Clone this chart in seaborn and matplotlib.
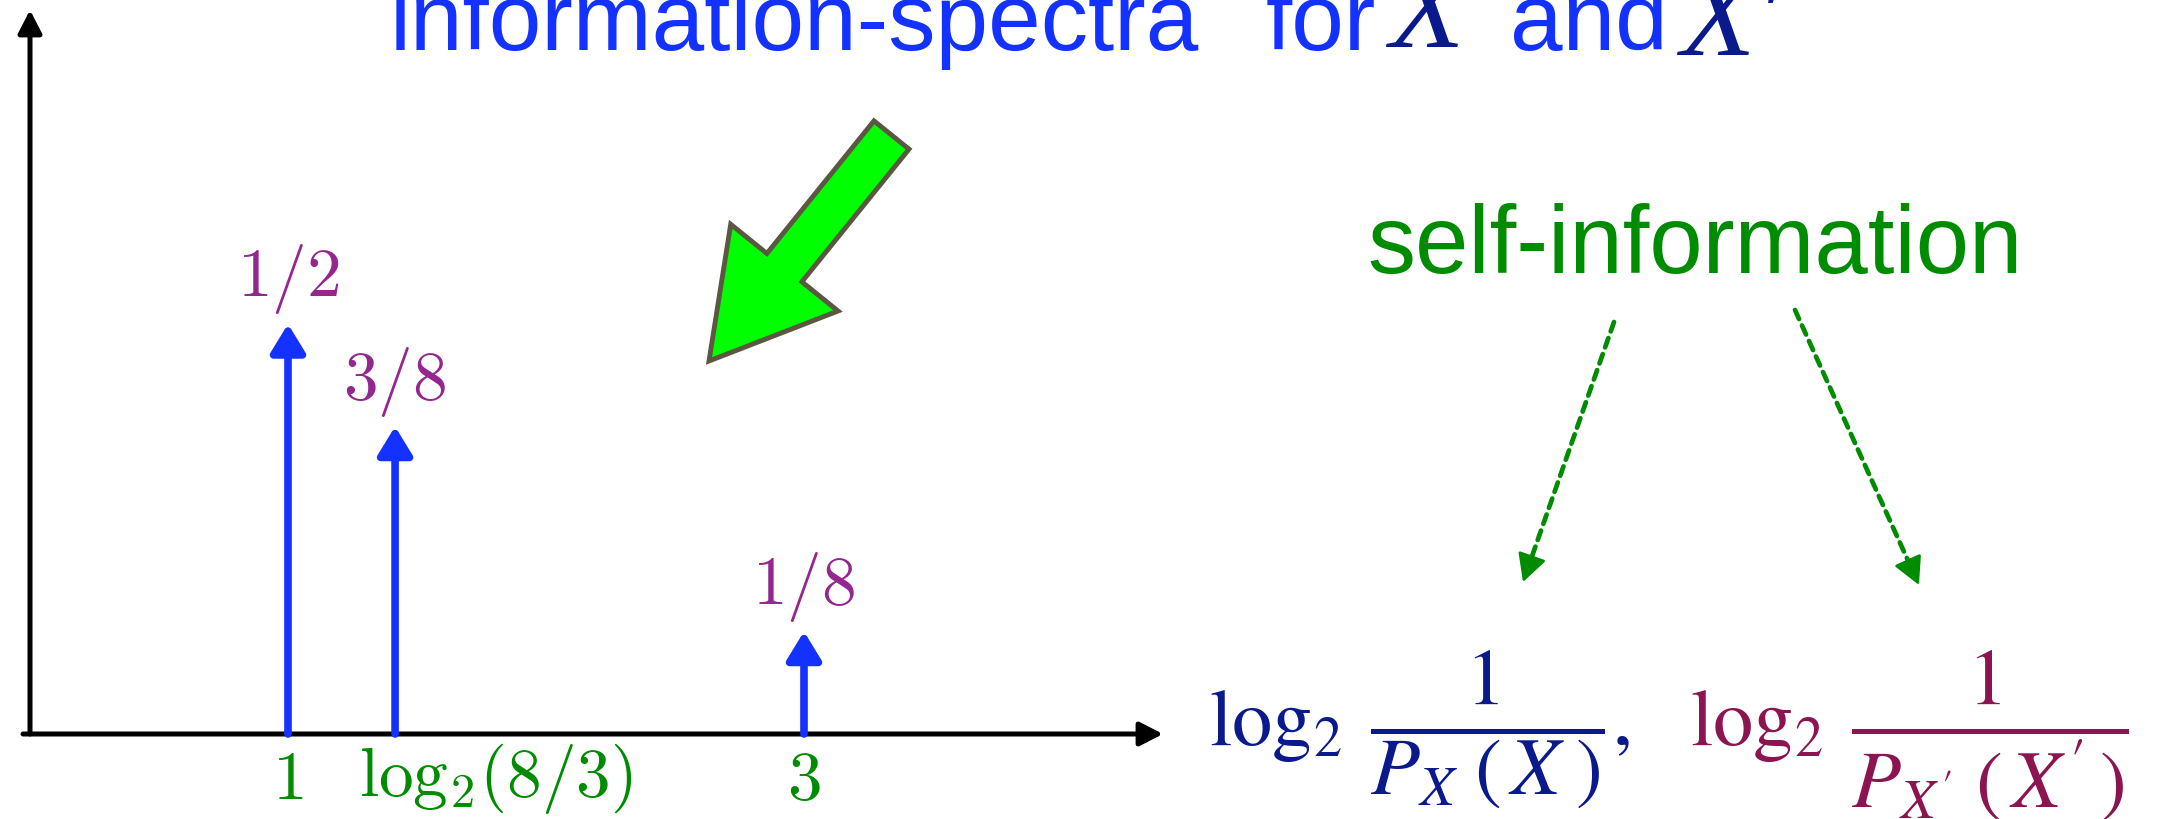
import numpy as np
import pandas as pd
import seaborn as sns
import matplotlib.pyplot as plt
from matplotlib.patches import FancyArrow

# spectrum data: self-information value -> probability
info_values = [1.0, 1.415, 3.0]
probs = [0.5, 0.375, 0.125]
prob_labels = ["$1/2$", "$3/8$", "$1/8$"]
tick_labels = ["$1$", r"$\mathrm{log}_2(8/3)$", "$3$"]

title_words = ["information-spectra", "for", "X", "and", "X\u2032"]
side_label = "self-information"
formula_x = r"$\log_2\;\dfrac{\,1_{\,}}{P_X\;(\,X\;)},$"
formula_xp = r"$\log_2\;\dfrac{\,1_{\,}}{P_{X'}\;(\,X'\,)}$"

BLUE = "#1432ff"
NAVY = "#0a1a8c"
PURPLE = "#93278f"
GREEN = "#008c00"
CRIMSON = "#8c1450"
LIME = "#00ff00"

sns.set_theme(style="white")
plt.rcParams["font.family"] = ["Liberation Sans", "DejaVu Sans"]
plt.rcParams["mathtext.fontset"] = "cm"

df = pd.DataFrame({"info": info_values, "prob": probs,
                   "prob_label": prob_labels, "tick": tick_labels})

W, H = 2159, 819
fig = plt.figure(figsize=(W / 100, H / 100), dpi=100)

# overlay in pixel units for the free annotations
ov = fig.add_axes([0, 0, 1, 1])
ov.set_xlim(0, W)
ov.set_ylim(H, 0)
ov.axis("off")

# main spectrum axes
x0_px, y0_px = 30, 734
px_per_x, px_per_y = 258, 820
left_px, right_px, top_px = 23, 1163, 10
ax = fig.add_axes([left_px / W, (H - y0_px) / H,
                   (right_px - left_px) / W, (y0_px - top_px) / H])
xmin = (left_px - x0_px) / px_per_x
xmax = (right_px - x0_px) / px_per_x
ymax = (y0_px - top_px) / px_per_y
ax.set_xlim(xmin, xmax)
ax.set_ylim(0, ymax)
ax.axis("off")

axis_arrow = dict(arrowstyle="-|>,head_length=0.7,head_width=0.36", color="black",
                  lw=3.6, mutation_scale=20, shrinkA=0, shrinkB=0)
ax.annotate("", xy=(xmax, 0), xytext=(xmin, 0), arrowprops=axis_arrow)
ax.annotate("", xy=(0, ymax), xytext=(0, 0), arrowprops=axis_arrow)

for _, row in df.iterrows():
    ax.annotate("", xy=(row["info"], row["prob"]), xytext=(row["info"], 0),
                arrowprops=dict(arrowstyle="-|>,head_length=0.85,head_width=0.52",
                                color=BLUE, lw=5.5, mutation_scale=20,
                                shrinkA=0, shrinkB=0))
    ax.annotate(row["prob_label"], xy=(row["info"], row["prob"]), xytext=(0, 20),
                textcoords="offset points", ha="center", va="baseline",
                color=PURPLE, fontsize=50)
    long_label = len(row["tick"]) > 4
    ax.annotate(row["tick"], xy=(row["info"], 0),
                xytext=(-26, -5) if long_label else (0, -11),
                textcoords="offset points",
                ha="left" if long_label else "center", va="top",
                color=GREEN, fontsize=50)

# title (top is cut off in the original)
title_pos = [(390, 50), (1266, 50), (1389, 47), (1510, 50), (1680, 55)]
for word, (xp, yp) in zip(title_words, title_pos):
    if word.startswith("X"):
        ov.text(xp, yp, word, ha="left", va="baseline", fontsize=88, color=NAVY,
                family=["Liberation Serif", "DejaVu Serif"], style="italic")
    else:
        ov.text(xp, yp, word, ha="left", va="baseline", fontsize=68, color=BLUE)

# big green pointer
ov.add_patch(FancyArrow(891.5, 135, -182.5, 226, width=45, head_width=138,
                        head_length=120, length_includes_head=True,
                        facecolor=LIME, edgecolor="#5b5743", linewidth=3.5,
                        joinstyle="miter"))

ov.text(1367, 273, side_label, ha="left", va="baseline", fontsize=69, color=GREEN)

# dashed pointers from "self-information" down to the two formulas
for start, tip in [((1614, 322), (1523, 582)), ((1795, 310), (1919, 585))]:
    start, tip = np.array(start, float), np.array(tip, float)
    u = (tip - start) / np.hypot(*(tip - start))
    head_base = tip - 22 * u
    ov.annotate("", xy=head_base, xytext=start,
                arrowprops=dict(arrowstyle="-", color=GREEN, lw=3.4,
                                linestyle=(0, (2.1, 1.5)), shrinkA=0, shrinkB=0))
    ov.annotate("", xy=tip, xytext=tip - 30 * u,
                arrowprops=dict(arrowstyle="-|>,head_length=0.85,head_width=0.45",
                                color=GREEN, lw=2, mutation_scale=20,
                                shrinkA=0, shrinkB=0))

ov.text(1209, 745, formula_x, ha="left", va="baseline", fontsize=58,
        color=NAVY, math_fontfamily="stix")
ov.text(1690, 745, formula_xp, ha="left", va="baseline", fontsize=58,
        color=CRIMSON, math_fontfamily="stix")

fig.savefig("out.png", dpi=100)
